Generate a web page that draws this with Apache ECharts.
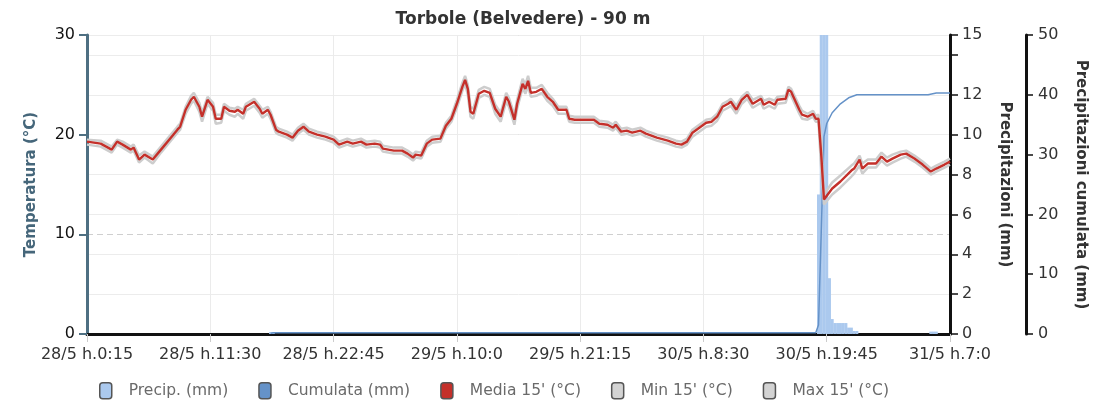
<!DOCTYPE html>
<html>
<head>
<meta charset="utf-8">
<script src="https://cdn.jsdelivr.net/npm/echarts/dist/echarts.min.js"></script>
<style>html,body{margin:0;padding:0;background:#fff}#c{width:1100px;height:417px}</style>
</head>
<body>
<div id="c"></div>
<script>
// x axis: index of 15-minute step from 28/5 h.0:15
const xTickLabels = ['28/5 h.0:15','28/5 h.11:30','28/5 h.22:45','29/5 h.10:0','29/5 h.21:15','30/5 h.8:30','30/5 h.19:45','31/5 h.7:0'];
const xTickStep = 45;
const xMax = 315;

const tempIdx = [
  0,5,9,11,13,16,17,19,21,24,
  27,30,33,34,36,38,39,41,42,44,
  46,47,49,50,52,54,55,57,58,61,
  63,64,66,67,69,70,73,75,77,79,
  81,84,87,90,92,95,97,100,102,105,
  107,108,112,115,117,119,120,122,124,126,
  129,131,133,135,137,138,139,140,141,143,
  145,147,149,151,153,154,156,157,159,160,
  161,162,164,166,168,170,172,175,176,178,
  180,182,185,187,190,192,193,195,197,199,
  202,204,208,212,215,217,219,221,224,226,
  228,230,232,234,235,237,239,241,243,246,
  247,249,251,252,255,256,257,260,261,263,
  265,266,267,268,269,272,275,279,280,282,
  283,285,288,290,292,294,297,299,302,305,
  308,310,313,315
];
const media15 = [
  19.3,19.1,18.5,19.3,19.0,18.5,18.7,17.5,18.0,17.5,
  18.5,19.5,20.5,20.8,22.5,23.5,23.8,22.8,21.8,23.5,
  22.8,21.6,21.6,22.8,22.4,22.3,22.5,22.1,22.8,23.3,
  22.6,22.1,22.5,22.0,20.5,20.3,20.0,19.7,20.4,20.8,
  20.3,20.0,19.8,19.5,19.0,19.3,19.1,19.3,19.0,19.1,
  19.0,18.6,18.4,18.4,18.1,17.7,18.0,17.9,19.1,19.5,
  19.6,20.9,21.6,23.1,24.8,25.5,24.6,22.3,22.1,24.1,
  24.4,24.2,22.6,21.8,23.8,23.3,21.5,23.1,25.1,24.6,
  25.4,24.2,24.3,24.6,23.8,23.3,22.5,22.5,21.6,21.5,
  21.5,21.5,21.5,21.1,21.0,20.7,21.0,20.3,20.4,20.2,
  20.4,20.1,19.7,19.4,19.1,19.0,19.3,20.2,20.8,21.2,
  21.3,21.8,22.8,23.1,23.3,22.5,23.5,24.0,23.1,23.6,
  23.0,23.3,23.0,23.5,23.6,24.5,24.3,22.5,22.0,21.8,
  22.1,21.6,21.6,18.0,13.5,14.6,15.3,16.4,16.6,17.5,
  16.6,17.1,17.1,17.8,17.3,17.6,18.0,18.1,17.6,17.0,
  16.3,16.6,17.0,17.3
];
const min15 = [
  19.0,18.8,18.2,19.0,18.7,18.2,18.4,17.2,17.7,17.1,
  18.2,19.2,20.2,20.5,22.1,23.1,23.4,22.3,21.3,23.1,
  22.4,21.1,21.2,22.4,22.0,21.8,22.1,21.6,22.4,22.9,
  22.2,21.7,22.1,21.6,20.2,20.0,19.7,19.4,20.1,20.5,
  20.0,19.7,19.5,19.2,18.7,19.0,18.8,19.0,18.7,18.8,
  18.7,18.3,18.1,18.1,17.8,17.4,17.7,17.6,18.8,19.2,
  19.3,20.6,21.3,22.7,24.4,25.1,24.0,21.8,21.6,23.7,
  24.0,23.8,22.1,21.3,23.3,22.8,21.0,22.6,24.7,24.1,
  24.9,23.8,23.9,24.2,23.4,22.9,22.1,22.1,21.3,21.2,
  21.2,21.2,21.2,20.8,20.7,20.4,20.7,20.0,20.1,19.9,
  20.1,19.8,19.4,19.1,18.8,18.7,19.0,19.8,20.4,20.8,
  20.9,21.4,22.4,22.7,22.9,22.1,23.1,23.6,22.7,23.2,
  22.6,22.9,22.6,23.1,23.2,24.1,23.9,22.1,21.6,21.5,
  21.8,21.3,21.3,16.5,13.0,14.0,14.7,15.8,16.1,16.9,
  16.1,16.7,16.7,17.4,16.9,17.2,17.6,17.8,17.3,16.7,
  16.0,16.3,16.7,17.0
];
const max15 = [
  19.5,19.4,18.8,19.5,19.3,18.8,19.0,17.9,18.3,17.8,
  18.8,19.8,20.8,21.1,22.8,23.9,24.2,23.2,22.2,23.8,
  23.2,22.0,22.0,23.1,22.7,22.6,22.8,22.5,23.1,23.6,
  22.9,22.5,22.8,22.3,20.8,20.6,20.3,20.0,20.7,21.1,
  20.6,20.3,20.1,19.8,19.3,19.6,19.4,19.6,19.3,19.4,
  19.3,18.9,18.7,18.7,18.4,18.0,18.3,18.2,19.4,19.8,
  19.9,21.2,21.9,23.5,25.2,25.9,25.0,22.8,22.6,24.5,
  24.8,24.6,23.0,22.2,24.2,23.7,22.0,23.5,25.6,25.0,
  25.9,24.7,24.7,25.0,24.2,23.6,22.8,22.8,21.9,21.8,
  21.8,21.8,21.8,21.4,21.3,21.0,21.3,20.6,20.7,20.5,
  20.7,20.4,20.0,19.7,19.4,19.3,19.6,20.5,21.1,21.5,
  21.6,22.1,23.1,23.4,23.6,22.9,23.8,24.3,23.5,23.9,
  23.4,23.6,23.4,23.8,23.9,24.8,24.6,22.9,22.4,22.1,
  22.4,21.9,22.0,19.5,14.0,15.2,15.9,16.9,17.1,17.9,
  17.1,17.5,17.5,18.2,17.7,18.0,18.3,18.4,17.9,17.3,
  16.6,16.9,17.3,17.6
];

const precipIdx = [67,68,267,268,269,270,271,272,273,274,275,276,277,278,279,280,281,308,309,310];
const precipVal = [0.1,0.1,7.0,18,18,18,2.8,0.75,0.55,0.55,0.55,0.55,0.55,0.32,0.32,0.15,0.15,0.12,0.12,0.12];

const cumIdx = [67,68,266,267,268,269,270,272,275,278,281,307,310,315];
const cumVal = [0.1,0.2,0.2,1.5,17,33,35.2,37.0,38.5,39.5,40.0,40.0,40.3,40.3];

const pairs = (xs, ys) => xs.map((x, k) => [x, ys[k]]);
const FONT = 'DejaVu Sans';

const chart = echarts.init(document.getElementById('c'), null, {renderer: 'canvas'});
chart.setOption({
  animation: false,
  textStyle: {fontFamily: FONT},
  title: {
    text: 'Torbole (Belvedere) - 90 m',
    left: 518, textAlign: 'center', top: 6,
    textStyle: {fontFamily: FONT, fontSize: 17, fontWeight: 'bold', color: '#333'}
  },
  legend: {
    top: 377, left: 94,
    icon: 'roundRect', itemWidth: 12, itemHeight: 16, itemGap: 30,
    itemStyle: {borderColor: '#555', borderWidth: 1.5},
    textStyle: {fontFamily: FONT, fontSize: 15.5, color: '#6a6a6a', padding: [0, 0, 0, 12]},
    data: ['Precip. (mm)', 'Cumulata (mm)', "Media 15' (°C)", "Min 15' (°C)", "Max 15' (°C)"]
  },
  grid: {left: 87, right: 150, top: 35, bottom: 83},
  xAxis: {
    type: 'value', min: 0, max: xMax, interval: xTickStep,
    axisLine: {show: true, lineStyle: {color: '#111', width: 3}},
    axisTick: {show: true, length: 8, lineStyle: {color: '#ccc'}},
    axisLabel: {
      fontFamily: FONT, fontSize: 16, color: '#333', margin: 13,
      formatter: v => xTickLabels[Math.round(v / xTickStep)] || ''
    },
    splitLine: {show: true, lineStyle: {color: '#ebebeb', width: 1}}
  },
  yAxis: [
    {
      type: 'value', min: 0, max: 30, interval: 10, position: 'left',
      name: 'Temperatura (°C)', nameLocation: 'middle', nameGap: 48,
      nameTextStyle: {fontFamily: FONT, fontSize: 15, fontWeight: 'bold', color: '#45667a'},
      axisLine: {show: true, lineStyle: {color: '#4e6f82', width: 3}},
      axisTick: {show: true, length: 8, lineStyle: {color: '#4e6f82', width: 2}},
      axisLabel: {fontFamily: FONT, fontSize: 16, color: '#111', margin: 12},
      splitLine: {show: true, lineStyle: {color: '#cfcfcf', type: [6, 4], width: 1}}
    },
    {
      type: 'value', min: 0, max: 15, interval: 2, position: 'right',
      name: 'Precipitazioni (mm)', nameLocation: 'middle', nameGap: 47, nameRotate: -90,
      nameTextStyle: {fontFamily: FONT, fontSize: 15, fontWeight: 'bold', color: '#333'},
      axisLine: {show: true, lineStyle: {color: '#111', width: 3}},
      axisTick: {show: true, length: 8, lineStyle: {color: '#111', width: 1.5}},
      axisLabel: {fontFamily: FONT, fontSize: 16, color: '#333', margin: 12,
        formatter: v => (v === 14 ? '' : String(v))},
      splitLine: {show: true, lineStyle: {color: '#ececec', width: 1}}
    },
    {
      type: 'value', min: 0, max: 50, interval: 10, position: 'right', offset: 76,
      name: 'Precipitazioni cumulata (mm)', nameLocation: 'middle', nameGap: 47, nameRotate: -90,
      nameTextStyle: {fontFamily: FONT, fontSize: 15, fontWeight: 'bold', color: '#333'},
      axisLine: {show: true, lineStyle: {color: '#111', width: 3}},
      axisTick: {show: true, length: 7, lineStyle: {color: '#111', width: 1.5}},
      axisLabel: {fontFamily: FONT, fontSize: 16, color: '#333', margin: 12},
      splitLine: {show: false}
    }
  ],
  series: [
    {
      name: 'Precip. (mm)', type: 'bar', yAxisIndex: 1, z: 1,
      barWidth: 3, itemStyle: {color: '#abc9ee'},
      data: pairs(precipIdx, precipVal)
    },
    {
      name: 'Cumulata (mm)', type: 'line', yAxisIndex: 2, z: 2,
      symbol: 'none', lineStyle: {color: '#6592c8', width: 1.5}, itemStyle: {color: '#6592c8'},
      data: pairs(cumIdx, cumVal)
    },
    {
      name: "Min 15' (°C)", type: 'line', yAxisIndex: 0, z: 3,
      symbol: 'none', lineStyle: {color: '#cdcdcd', width: 2.5}, itemStyle: {color: '#d3d3d3'},
      data: pairs(tempIdx, min15)
    },
    {
      name: "Max 15' (°C)", type: 'line', yAxisIndex: 0, z: 3,
      symbol: 'none', lineStyle: {color: '#cdcdcd', width: 2.5}, itemStyle: {color: '#d3d3d3'},
      data: pairs(tempIdx, max15)
    },
    {
      name: "Media 15' (°C)", type: 'line', yAxisIndex: 0, z: 4,
      symbol: 'none', lineStyle: {color: '#c4302a', width: 2.4}, itemStyle: {color: '#c4302a'},
      data: pairs(tempIdx, media15)
    }
  ]
});
</script>
</body>
</html>
